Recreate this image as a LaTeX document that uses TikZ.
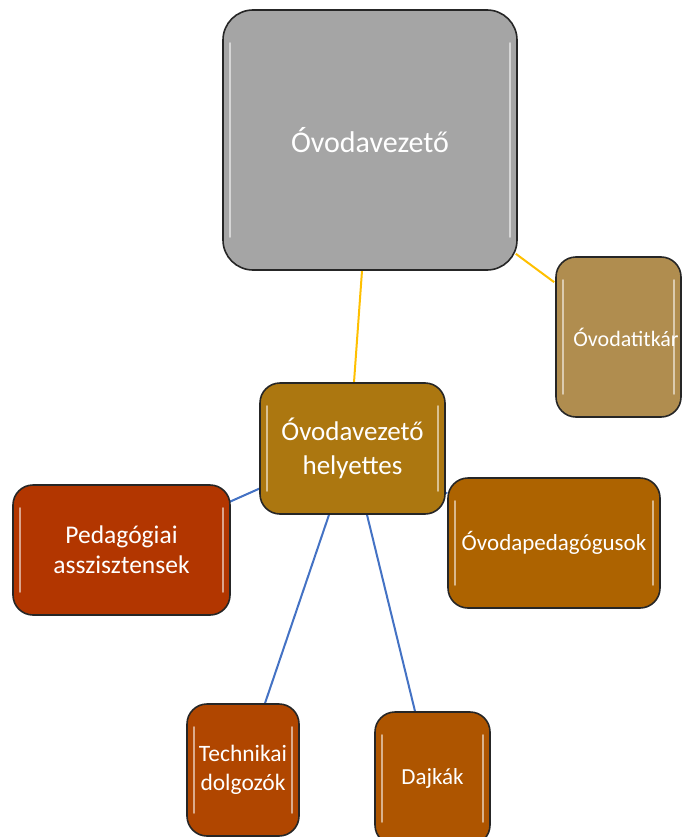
\documentclass[tikz,border=0pt]{standalone}
\usepackage{fontspec}
\setmainfont{Carlito}
\usetikzlibrary{backgrounds}
\definecolor{cgray}{HTML}{A5A5A5}
\definecolor{ctitk}{HTML}{B08D4F}
\definecolor{chely}{HTML}{AC7710}
\definecolor{cped}{HTML}{B23600}
\definecolor{covp}{HTML}{AD6300}
\definecolor{ctech}{HTML}{B04600}
\definecolor{cdaj}{HTML}{AE5500}
\definecolor{cyel}{HTML}{FFC000}
\definecolor{cblue}{HTML}{4472C4}
\tikzset{
  box/.style={draw=black!85, line width=1.6pt, text=white, align=center, inner sep=0pt, rounded corners=#1},
  box/.default=20pt,
  yel/.style={draw=cyel, line width=2pt},
  blu/.style={draw=cblue, line width=2pt},
  hl/.style={draw=white, opacity=0.55, line width=2.4pt, line cap=round},
}
\newcommand{\glint}[2]{%
  \draw[hl] ([xshift=8pt,yshift=-#2]#1.north west) -- ([xshift=8pt,yshift=#2]#1.south west);
  \draw[hl] ([xshift=-8pt,yshift=-#2]#1.north east) -- ([xshift=-8pt,yshift=#2]#1.south east);
}
\begin{document}
\begin{tikzpicture}[x=1pt,y=-1pt]
\useasboundingbox (0,0) rectangle (682,837);
\clip (0,0) rectangle (682,837);
\begin{scope}[on background layer]
\fill[white] (0,0) rectangle (682,837);
\end{scope}

\node[box=30pt, fill=cgray, minimum width=294pt, minimum height=260pt, font=\fontsize{30}{36}\selectfont] (top) at (370,140) {Óvodavezető};
\node[box, fill=ctitk, minimum width=125pt, minimum height=160pt, font=\fontsize{22}{27}\selectfont] (titk) at (618.5,337) {};
\node[text=white, font=\fontsize{22}{27}\selectfont] (titkt) at (626,337) {Óvodatitkár};
\node[box, fill=chely, minimum width=185pt, minimum height=131pt, font=\fontsize{27}{34}\selectfont] (hel) at (352.5,448.5) {Óvodavezető\\helyettes};
\node[box, fill=cped, minimum width=217pt, minimum height=130pt, font=\fontsize{25.5}{30}\selectfont] (ped) at (121.5,550) {Pedagógiai\\asszisztensek};
\node[box, fill=covp, minimum width=212pt, minimum height=130pt, font=\fontsize{23}{28}\selectfont] (ovp) at (554,543) {Óvodapedagógusok};
\node[box, fill=ctech, minimum width=112pt, minimum height=132pt, font=\fontsize{23.5}{29}\selectfont] (tech) at (243,770) {Technikai\\dolgozók};
\node[box, fill=cdaj, minimum width=115pt, minimum height=133pt, font=\fontsize{23}{28}\selectfont] (daj) at (432.5,778.5) {Dajkák};

\glint{top}{34pt}
\glint{titk}{24pt}
\glint{hel}{24pt}
\glint{ped}{24pt}
\glint{ovp}{24pt}
\glint{tech}{24pt}
\glint{daj}{24pt}

\begin{scope}[on background layer]
\draw[yel] ([xshift=-8pt]top.south) -- ([xshift=1.5pt]hel.north);
\draw[yel] ([xshift=-2pt,yshift=17pt]top.south east) -- ([xshift=-1pt,yshift=-26pt]titk.north west);
\draw[blu] ([xshift=2pt,yshift=27pt]hel.south west) -- ([xshift=-2pt,yshift=-18pt]ped.north east);
\draw[blu] ([xshift=-3pt,yshift=23pt]hel.south east) -- ([yshift=-16pt]ovp.north west);
\draw[blu] ([xshift=-23.5pt]hel.south) -- ([xshift=22pt]tech.north);
\draw[blu] ([xshift=14.5pt]hel.south) -- ([xshift=-17.5pt]daj.north);
\end{scope}
\end{tikzpicture}
\end{document}
